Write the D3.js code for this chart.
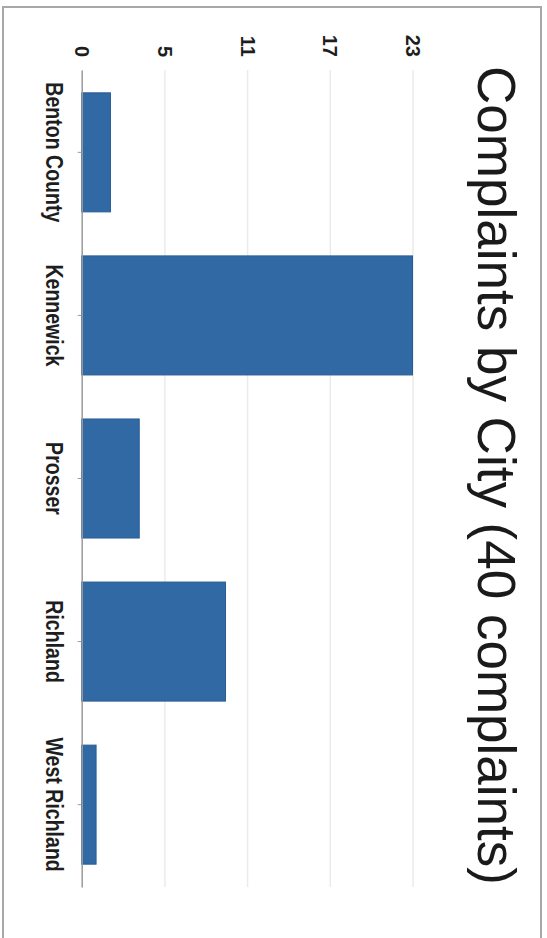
<!DOCTYPE html>
<html>
<head>
<meta charset="utf-8">
<script src="https://cdn.jsdelivr.net/npm/d3@7"></script>
<style>
  html, body { margin: 0; padding: 0; background: #fff; }
  svg { display: block; font-family: "Liberation Sans", Arial, sans-serif; }
</style>
</head>
<body>
<svg id="chart" width="547" height="938"></svg>
<script>
const categories = ["Benton County", "Kennewick", "Prosser", "Richland", "West Richland"];
const complaints = [2, 23, 4, 10, 1];
const gridValues = [0, 5.75, 11.5, 17.25, 23];
const tickLabels = ["0", "5", "11", "17", "23"];
const title = "Complaints by City (40 complaints)";

const svg = d3.select("#chart");

// frame
svg.append("rect")
  .attr("x", 3).attr("y", 7)
  .attr("width", 538).attr("height", 960)
  .attr("fill", "none").attr("stroke", "#a8a8a8").attr("stroke-width", 2);

const plotTop = 70, plotBottom = 887, plotLeft = 81.7;

const x = d3.scaleLinear().domain([0, 23]).range([plotLeft, 412.5]);
const y = d3.scaleBand().domain(categories).range([plotTop, plotBottom])
  .paddingInner(0.27).paddingOuter(0.14);

// value axis with gridlines
const gx = svg.append("g")
  .attr("transform", `translate(0,${plotTop})`)
  .call(d3.axisTop(x)
    .tickValues(gridValues)
    .tickFormat((d, i) => tickLabels[i])
    .tickSize(-(plotBottom - plotTop))
    .tickSizeOuter(0));
gx.select(".domain").remove();
gx.selectAll(".tick line")
  .attr("stroke", d => d === 0 ? "none" : "#ebebeb")
  .attr("stroke-width", 1.5);
gx.selectAll(".tick text")
  .attr("x", 0).attr("y", 0)
  .attr("dy", "0.35em")
  .attr("text-anchor", "end")
  .attr("transform", `translate(0,${57 - plotTop}) rotate(90)`)
  .attr("fill", "#1e1e1e")
  .attr("font-size", 20)
  .attr("font-weight", "bold");

// bars
svg.append("g").selectAll("rect")
  .data(categories)
  .join("rect")
  .attr("x", x(0))
  .attr("y", d => y(d))
  .attr("width", (d, i) => x(complaints[i]) - x(0))
  .attr("height", y.bandwidth())
  .attr("fill", "#3169a5")
  .attr("stroke", "#285d94")
  .attr("stroke-width", 1);

// category axis
const gy = svg.append("g")
  .attr("transform", `translate(${plotLeft},0)`)
  .call(d3.axisLeft(y).tickSize(4).tickSizeOuter(0));
gy.select(".domain").attr("stroke", "#9a9a9a").attr("stroke-width", 1.5);
gy.selectAll(".tick line").attr("stroke", "#9a9a9a");
gy.selectAll(".tick text")
  .attr("x", 0).attr("y", 0).attr("dy", 0)
  .attr("text-anchor", "middle")
  .attr("transform", `translate(${46 - plotLeft},0) rotate(90) scale(0.85,1)`)
  .attr("fill", "#1e1e1e")
  .attr("font-size", 23)
  .attr("font-weight", "bold");

// title
svg.append("text")
  .attr("transform", `translate(478,${(plotTop + plotBottom) / 2 - 3}) rotate(90)`)
  .attr("text-anchor", "middle")
  .attr("font-size", 53)
  .attr("fill", "#1a1a1a")
  .text(title);
</script>
</body>
</html>
